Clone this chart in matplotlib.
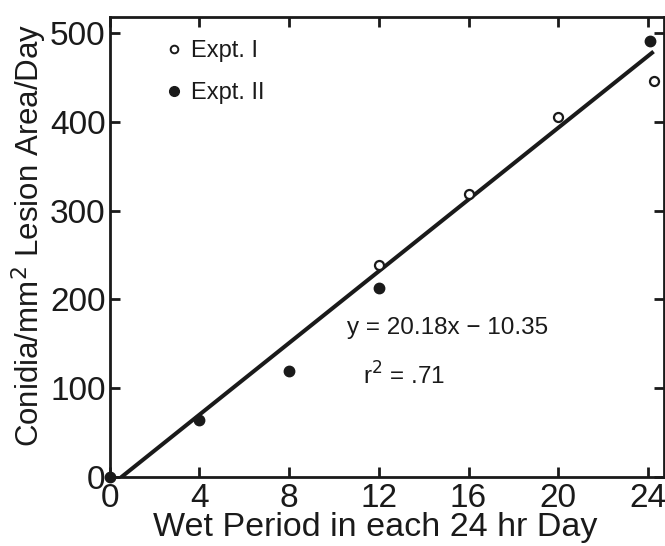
import matplotlib
matplotlib.use("Agg")
import matplotlib.pyplot as plt
from matplotlib.lines import Line2D

plt.rcParams["font.family"] = ["Liberation Sans", "DejaVu Sans"]

# data
x_expt1 = [12, 16, 20, 24.25]
y_expt1 = [239, 319, 405, 446]
x_expt2 = [0, 4, 8, 12, 24.1]
y_expt2 = [0, 64, 120, 213, 491]
slope, intercept = 20.18, -10.35
fit_x = [0.5, 24.25]
x_ticks = [0, 4, 8, 12, 16, 20, 24]
y_ticks = [0, 100, 200, 300, 400, 500]

ink = "#1a1a1a"

fig = plt.figure(figsize=(6.65, 5.46), dpi=100)
ax = fig.add_axes([0.165, 0.126, 0.833, 0.843])

# regression line
fit_y = [slope * v + intercept for v in fit_x]
ax.plot(fit_x, fit_y, color=ink, linewidth=2.9, solid_capstyle="butt", zorder=2)
ax.plot(x_expt1, y_expt1, "o", markersize=6.5, markerfacecolor="white",
        markeredgecolor=ink, markeredgewidth=1.6, zorder=3, clip_on=False)
ax.plot(x_expt2, y_expt2, "o", markersize=7.5, color=ink, zorder=3, clip_on=False)

ax.set_xlim(0, 24.7)
ax.set_ylim(0, 518)
ax.set_xticks(x_ticks)
ax.set_yticks(y_ticks)
ax.tick_params(direction="in", length=7, width=2, colors=ink, labelsize=24,
               top=True, right=True, pad=3)
ax.tick_params(axis="x", pad=4)
ax.set_xticklabels([str(v) for v in x_ticks])
ax.set_yticklabels([str(v) for v in y_ticks])
for s in ax.spines.values():
    s.set_linewidth(2)
    s.set_color(ink)

ax.set_xlabel("Wet Period in each 24 hr Day", fontsize=24.5, color=ink, labelpad=-1)
ax.set_ylabel("Conidia/mm$^2$ Lesion Area/Day", fontsize=22.5, color=ink, labelpad=1)
ax.xaxis.label.set_x(0.48)
ax.yaxis.label.set_y(0.526)

ax.text(10.6, 168, "y = 20.18x \u2212 10.35", fontsize=17.5, color=ink, va="center")
ax.text(11.3, 114, "r$^2$ = .71", fontsize=17.5, color=ink, va="center")

handles = [
    Line2D([], [], linestyle="none", marker="o", markersize=5.5, markerfacecolor="white",
           markeredgecolor=ink, markeredgewidth=1.4, label="Expt. I"),
    Line2D([], [], linestyle="none", marker="o", markersize=7, color=ink, label="Expt. II"),
]
leg = ax.legend(handles=handles, loc="upper left", bbox_to_anchor=(0.103, 0.949),
                frameon=False, fontsize=17, handlelength=0.6, handletextpad=0.42,
                labelspacing=0.85, borderaxespad=0, borderpad=0)
for t in leg.get_texts():
    t.set_color(ink)

fig.savefig("out.png", dpi=100)
